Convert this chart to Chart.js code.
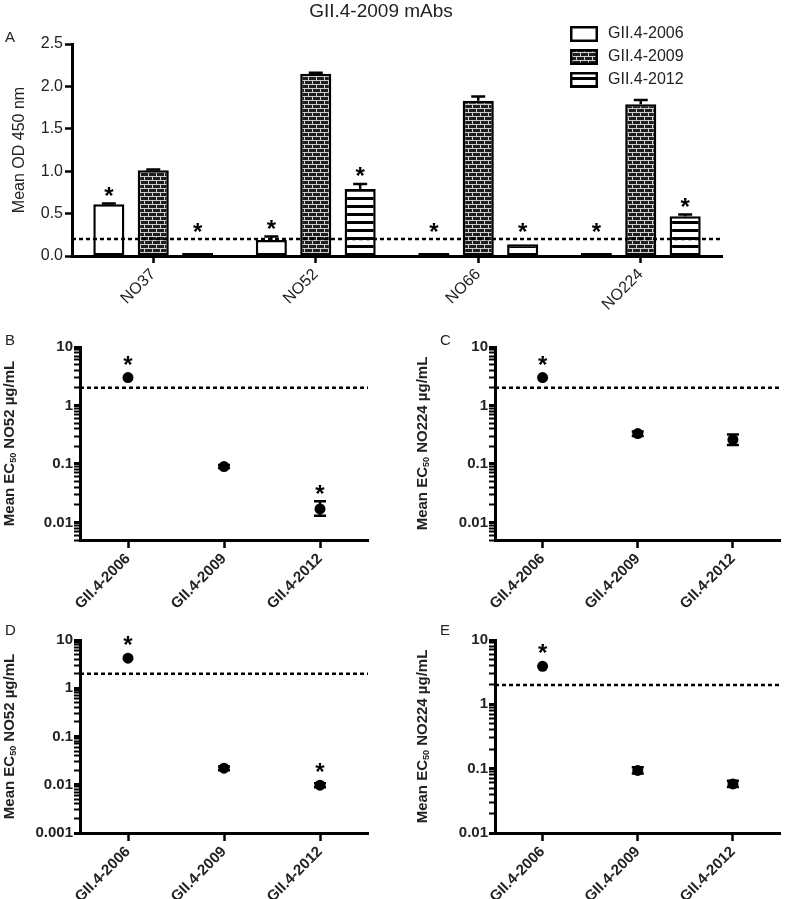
<!DOCTYPE html>
<html>
<head>
<meta charset="utf-8">
<script src="https://cdn.jsdelivr.net/npm/chart.js@4.4.1/dist/chart.umd.min.js"></script>
<style>
  body { margin: 0; background: #fff; }
  #page { position: relative; width: 786px; height: 899px; overflow: hidden;
          font-family: "Liberation Sans", Arial, sans-serif; color: #222; }
  canvas { position: absolute; }
  .panel { position: absolute; font-size: 15px; z-index: 2; }
  #title { position: absolute; top: 0; left: 0; width: 762px; text-align: center; font-size: 19px; z-index: 2; }
</style>
</head>
<body>
<div id="page">
  <canvas id="chartA" width="786" height="320" style="left:0;top:0"></canvas>
  <canvas id="chartB" width="393" height="290" style="left:0;top:325px"></canvas>
  <canvas id="chartC" width="393" height="290" style="left:393px;top:325px"></canvas>
  <canvas id="chartD" width="393" height="284" style="left:0;top:615px"></canvas>
  <canvas id="chartE" width="393" height="284" style="left:393px;top:615px"></canvas>
  <div id="title">GII.4-2009 mAbs</div>
  <div class="panel" style="left:5px;top:28px">A</div>
  <div class="panel" style="left:5px;top:331px">B</div>
  <div class="panel" style="left:440px;top:331px">C</div>
  <div class="panel" style="left:5px;top:621px">D</div>
  <div class="panel" style="left:440px;top:621px">E</div>
</div>
<script>
// ---- panel A: OD450 per mAb ----
const mAbs = ['NO37', 'NO52', 'NO66', 'NO224'];
const od2006 = [0.61, 0.19, 0.01, 0.01];
const od2006Err = [0.01, 0.04, 0, 0];
const od2009 = [1.01, 2.15, 1.83, 1.79];
const od2009Err = [0.01, 0.01, 0.05, 0.05];
const od2012 = [0.01, 0.79, 0.14, 0.47];
const od2012Err = [0, 0.06, 0, 0.02];
const star2006 = [1, 1, 1, 1];
const star2009 = [0, 0, 0, 0];
const star2012 = [1, 1, 1, 1];
const odCutoff = 0.2;

// ---- panels B-E: EC50 per variant ----
const variants = ['GII.4-2006', 'GII.4-2009', 'GII.4-2012'];
const ecB = [3.0, 0.09, 0.017];
const ecBLow = [3.0, 0.085, 0.013];
const ecBHigh = [3.0, 0.096, 0.023];
const starB = [1, 0, 1];
const ecC = [3.0, 0.33, 0.26];
const ecCLow = [3.0, 0.30, 0.21];
const ecCHigh = [3.0, 0.36, 0.32];
const starC = [1, 0, 0];
const ecD = [4.2, 0.022, 0.0098];
const ecDLow = [4.2, 0.020, 0.0089];
const ecDHigh = [4.2, 0.024, 0.0108];
const starD = [1, 0, 1];
const ecE = [3.9, 0.094, 0.058];
const ecELow = [3.9, 0.084, 0.052];
const ecEHigh = [3.9, 0.105, 0.065];
const starE = [1, 0, 0];
const ecCutoff = 2;

const FONT = '"Liberation Sans", Arial, sans-serif';
const INK = '#222';

// fill patterns
function brickPattern() {
  const c = document.createElement('canvas');
  c.width = 8; c.height = 8;
  const g = c.getContext('2d');
  g.fillStyle = '#1e1e1e'; g.fillRect(0, 0, 8, 8);
  g.strokeStyle = '#cfcfcf'; g.lineWidth = 1;
  g.beginPath();
  g.moveTo(0, 0.5); g.lineTo(8, 0.5);
  g.moveTo(0, 4.5); g.lineTo(8, 4.5);
  g.moveTo(0.5, 0); g.lineTo(0.5, 4);
  g.moveTo(4.5, 4); g.lineTo(4.5, 8);
  g.stroke();
  return g.createPattern(c, 'repeat');
}
function stripePattern() {
  const c = document.createElement('canvas');
  c.width = 4; c.height = 8;
  const g = c.getContext('2d');
  g.fillStyle = '#fff'; g.fillRect(0, 0, 4, 8);
  g.fillStyle = '#000'; g.fillRect(0, 5, 4, 3);
  return g.createPattern(c, 'repeat');
}

function isPow10(v) {
  const l = Math.log10(v);
  return Math.abs(l - Math.round(l)) < 1e-9;
}

function drawStar(ctx, x, cy) {
  ctx.fillStyle = '#000';
  ctx.font = 'bold 24px ' + FONT;
  ctx.textAlign = 'center';
  ctx.textBaseline = 'alphabetic';
  ctx.fillText('*', x, cy + 13.5);
}

// error bars, asterisks and dashed cutoff line
const marksPlugin = {
  id: 'marks',
  afterDatasetsDraw(chart, args, opts) {
    const ctx = chart.ctx;
    const y = chart.scales.y;
    const area = chart.chartArea;
    const cutPx = y.getPixelForValue(opts.cutoff);
    ctx.save();
    ctx.strokeStyle = '#000';
    ctx.lineWidth = 2.5;
    chart.data.datasets.forEach((ds, i) => {
      chart.getDatasetMeta(i).data.forEach((el, j) => {
        let top;
        if (ds.errUp) {
          top = el.y;
          if (ds.errUp[j] > 0) {
            top = y.getPixelForValue(ds.data[j] + ds.errUp[j]);
            ctx.beginPath();
            ctx.moveTo(el.x, el.y); ctx.lineTo(el.x, top);
            ctx.moveTo(el.x - 7, top); ctx.lineTo(el.x + 7, top);
            ctx.stroke();
          }
          top = Math.min(top, cutPx);
        } else {
          const hi = y.getPixelForValue(ds.errHigh[j]);
          const lo = y.getPixelForValue(ds.errLow[j]);
          if (lo - hi > 1) {
            ctx.beginPath();
            ctx.moveTo(el.x, lo); ctx.lineTo(el.x, hi);
            ctx.moveTo(el.x - 6, hi); ctx.lineTo(el.x + 6, hi);
            ctx.moveTo(el.x - 6, lo); ctx.lineTo(el.x + 6, lo);
            ctx.stroke();
          }
          top = Math.min(hi, el.y - 5.5);
        }
        if (ds.stars[j]) drawStar(ctx, el.x, top - 13);
      });
    });
    ctx.setLineDash([4, 3]);
    ctx.beginPath();
    ctx.moveTo(area.left, cutPx); ctx.lineTo(area.right, cutPx);
    ctx.stroke();
    ctx.restore();
  }
};

// legend with pattern boxes (panel A)
const boxLegend = {
  id: 'boxLegend',
  afterDraw(chart, args, opts) {
    const ctx = chart.ctx;
    ctx.save();
    chart.data.datasets.forEach((ds, i) => {
      const top = opts.top + i * opts.gap;
      ctx.fillStyle = ds.backgroundColor;
      ctx.fillRect(opts.x, top, 28, 16);
      ctx.strokeStyle = '#000'; ctx.lineWidth = 2.5;
      ctx.strokeRect(opts.x + 1.25, top + 1.25, 25.5, 13.5);
      ctx.fillStyle = INK;
      ctx.font = '16px ' + FONT;
      ctx.textAlign = 'left'; ctx.textBaseline = 'middle';
      ctx.fillText(ds.label, opts.x + 38, top + 8);
    });
    ctx.restore();
  }
};

// rotated y title with subscript (panels B-E)
const ecTitle = {
  id: 'ecTitle',
  afterDraw(chart, args, opts) {
    const ctx = chart.ctx;
    const area = chart.chartArea;
    const parts = [['Mean EC', 15, 0], ['50', 9, 4], [' ' + opts.mAb + ' \u00b5g/mL', 15, 0]];
    ctx.save();
    let total = 0;
    parts.forEach(p => { ctx.font = 'bold ' + p[1] + 'px ' + FONT; total += ctx.measureText(p[0]).width; });
    ctx.translate(opts.x, (area.top + area.bottom) / 2);
    ctx.rotate(-Math.PI / 2);
    ctx.fillStyle = INK;
    ctx.textAlign = 'left'; ctx.textBaseline = 'middle';
    let x = -total / 2;
    parts.forEach(p => {
      ctx.font = 'bold ' + p[1] + 'px ' + FONT;
      ctx.fillText(p[0], x, p[2]);
      x += ctx.measureText(p[0]).width;
    });
    ctx.restore();
  }
};

const axisLine = { display: true, width: 3, color: '#000' };

new Chart(document.getElementById('chartA'), {
  type: 'bar',
  data: {
    labels: mAbs,
    datasets: [
      { label: 'GII.4-2006', data: od2006, errUp: od2006Err, stars: star2006, backgroundColor: '#fff' },
      { label: 'GII.4-2009', data: od2009, errUp: od2009Err, stars: star2009, backgroundColor: brickPattern() },
      { label: 'GII.4-2012', data: od2012, errUp: od2012Err, stars: star2012, backgroundColor: stripePattern() }
    ].map(d => Object.assign(d, { borderColor: '#000', borderWidth: 2.5, borderSkipped: false, minBarLength: 3,
                                  categoryPercentage: 0.82, barPercentage: 0.7 }))
  },
  options: {
    responsive: false,
    animation: false,
    events: [],
    layout: { padding: { top: 44, right: 64, left: 0, bottom: 0 } },
    plugins: {
      legend: { display: false },
      tooltip: { enabled: false },
      marks: { cutoff: odCutoff },
      boxLegend: { x: 570, top: 26, gap: 23 }
    },
    scales: {
      x: {
        grid: { offset: false, drawOnChartArea: false, tickLength: 7, tickWidth: 2.5, tickColor: '#000' },
        border: axisLine,
        ticks: { minRotation: 45, maxRotation: 45, autoSkip: false, padding: 2, color: INK, font: { family: FONT, size: 16 } },
        afterFit(s) { s.height = 64; }
      },
      y: {
        min: 0, max: 2.5,
        grid: { drawOnChartArea: false, tickLength: 7, tickWidth: 2.5, tickColor: '#000' },
        border: axisLine,
        ticks: { stepSize: 0.5, padding: 2, color: INK, font: { family: FONT, size: 16 },
                 callback: v => v.toFixed(1) },
        title: { display: true, text: 'Mean OD 450 nm', color: INK, font: { family: FONT, size: 16 },
                 padding: { top: 10, bottom: 0 } },
        afterFit(s) { s.width = 72; }
      }
    }
  },
  plugins: [marksPlugin, boxLegend]
});

function ecChart(id, mAb, vals, lows, highs, stars, yMin, opt) {
  new Chart(document.getElementById(id), {
    type: 'line',
    data: {
      labels: variants,
      datasets: [{
        data: vals, errLow: lows, errHigh: highs, stars: stars,
        showLine: false, pointRadius: 5.5, pointHoverRadius: 5.5,
        pointBackgroundColor: '#000', pointBorderWidth: 0, clip: false
      }]
    },
    options: {
      responsive: false,
      animation: false,
      events: [],
      layout: { padding: { top: opt.top, right: opt.right, left: 0, bottom: 0 } },
      plugins: {
        legend: { display: false },
        tooltip: { enabled: false },
        marks: { cutoff: ecCutoff },
        ecTitle: { x: opt.titleX, mAb: mAb }
      },
      scales: {
        x: {
          offset: true,
          grid: { offset: false, drawOnChartArea: false, tickLength: 8, tickWidth: 2.5, tickColor: '#000' },
          border: axisLine,
          ticks: { minRotation: 45, maxRotation: 45, autoSkip: false, padding: 2, color: INK,
                   font: { family: FONT, size: 15, weight: 'bold' } },
          afterFit(s) { s.height = opt.xH; }
        },
        y: {
          type: 'logarithmic',
          min: yMin, max: 10,
          afterBuildTicks(s) {
            s.ticks = s.ticks.filter(t => {
              const m = t.value / Math.pow(10, Math.floor(Math.log10(t.value) + 1e-9));
              return Math.abs(m - Math.round(m)) < 1e-6;
            });
          },
          grid: { drawOnChartArea: false, tickLength: 6, tickColor: '#000',
                  tickWidth: c => (c.tick && isPow10(c.tick.value)) ? 3 : 2 },
          border: axisLine,
          ticks: { autoSkip: false, padding: 1, color: INK, font: { family: FONT, size: 15, weight: 'bold' },
                   callback: v => isPow10(v) ? String(v) : '' },
          afterFit(s) { s.width = opt.yW; }
        }
      }
    },
    plugins: [marksPlugin, ecTitle]
  });
}

ecChart('chartB', 'NO52', ecB, ecBLow, ecBHigh, starB, 0.005, { top: 22, right: 25, yW: 80, xH: 75, titleX: 10 });
ecChart('chartC', 'NO224', ecC, ecCLow, ecCHigh, starC, 0.005, { top: 22, right: 3, yW: 102, xH: 75, titleX: 30 });
ecChart('chartD', 'NO52', ecD, ecDLow, ecDHigh, starD, 0.001, { top: 25, right: 25, yW: 80, xH: 66, titleX: 10 });
ecChart('chartE', 'NO224', ecE, ecELow, ecEHigh, starE, 0.01, { top: 25, right: 3, yW: 102, xH: 66, titleX: 30 });
</script>
</body>
</html>
